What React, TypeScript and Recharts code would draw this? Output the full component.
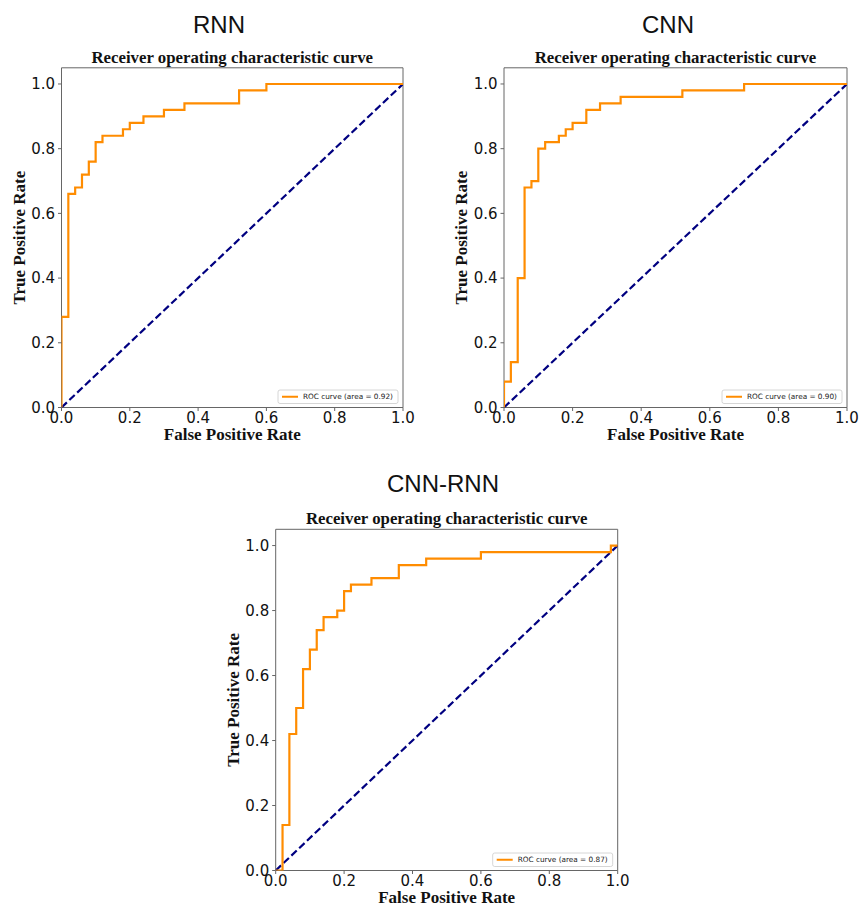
import React from "react";
import { LineChart, Line, XAxis, YAxis, ReferenceArea } from "recharts";

const TICKS = [0, 0.2, 0.4, 0.6, 0.8, 1.0];
const DIAG = [
  { fpr: 0, tpr: 0 },
  { fpr: 1, tpr: 1 },
];

const RNN_FPR = [0, 0, 0.02, 0.02, 0.04, 0.04, 0.06, 0.06, 0.08, 0.08, 0.1, 0.1, 0.12, 0.12, 0.18, 0.18, 0.2, 0.2, 0.24, 0.24, 0.3, 0.3, 0.36, 0.36, 0.52, 0.52, 0.6, 0.6, 1.0];
const RNN_TPR = [0, 0.28, 0.28, 0.66, 0.66, 0.68, 0.68, 0.72, 0.72, 0.76, 0.76, 0.82, 0.82, 0.84, 0.84, 0.86, 0.86, 0.88, 0.88, 0.9, 0.9, 0.92, 0.92, 0.94, 0.94, 0.98, 0.98, 1.0, 1.0];

const CNN_FPR = [0, 0, 0.02, 0.02, 0.04, 0.04, 0.06, 0.06, 0.08, 0.08, 0.1, 0.1, 0.12, 0.12, 0.16, 0.16, 0.18, 0.18, 0.2, 0.2, 0.24, 0.24, 0.28, 0.28, 0.34, 0.34, 0.52, 0.52, 0.7, 0.7, 1.0];
const CNN_TPR = [0, 0.08, 0.08, 0.14, 0.14, 0.4, 0.4, 0.68, 0.68, 0.7, 0.7, 0.8, 0.8, 0.82, 0.82, 0.84, 0.84, 0.86, 0.86, 0.88, 0.88, 0.92, 0.92, 0.94, 0.94, 0.96, 0.96, 0.98, 0.98, 1.0, 1.0];

const CR_FPR = [0, 0.02, 0.02, 0.04, 0.04, 0.06, 0.06, 0.08, 0.08, 0.1, 0.1, 0.12, 0.12, 0.14, 0.14, 0.18, 0.18, 0.2, 0.2, 0.22, 0.22, 0.28, 0.28, 0.36, 0.36, 0.44, 0.44, 0.6, 0.6, 0.98, 0.98, 1.0];
const CR_TPR = [0, 0, 0.14, 0.14, 0.42, 0.42, 0.5, 0.5, 0.62, 0.62, 0.68, 0.68, 0.74, 0.74, 0.78, 0.78, 0.8, 0.8, 0.86, 0.86, 0.88, 0.88, 0.9, 0.9, 0.94, 0.94, 0.96, 0.96, 0.98, 0.98, 1.0, 1.0];

const MODEL_NAMES = ["RNN", "CNN", "CNN-RNN"];
const AREAS = ["0.92", "0.90", "0.87"];
const SUBTITLE = "Receiver operating characteristic curve";
const X_LABEL = "False Positive Rate";
const Y_LABEL = "True Positive Rate";

const zip = (f: number[], t: number[]) => f.map((x, i) => ({ fpr: x, tpr: t[i] }));

const ORANGE = "#ff8c00";
const NAVY = "#000080";
const SPINE = "#666";
const TICK_FONT = { fontFamily: "DejaVu Sans", fontSize: 15, fill: "#111" };

type PanelProps = {
  left: number;
  top: number;
  width: number;
  height: number;
  margin: { top: number; right: number; bottom: number; left: number };
  data: { fpr: number; tpr: number }[];
};

function Panel({ left, top, width, height, margin, data }: PanelProps) {
  return (
    <div style={{ position: "absolute", left, top, width, height }}>
      <LineChart width={width} height={height} margin={margin}>
        <XAxis
          type="number"
          dataKey="fpr"
          domain={[0, 1]}
          ticks={TICKS}
          tickFormatter={(v: number) => v.toFixed(1)}
          height={30}
          axisLine={false}
          tickLine={{ stroke: SPINE }}
          tickSize={3.5}
          tickMargin={1}
          tick={TICK_FONT}
          allowDataOverflow
          interval={0}
        />
        <YAxis
          type="number"
          dataKey="tpr"
          domain={[0, 1.05]}
          ticks={TICKS}
          tickFormatter={(v: number) => v.toFixed(1)}
          width={40}
          axisLine={false}
          tickLine={{ stroke: SPINE }}
          tickSize={3.5}
          tickMargin={3}
          tick={TICK_FONT}
          allowDataOverflow
          interval={0}
        />
        <ReferenceArea x1={0} x2={1} y1={0} y2={1.05} fill="none" stroke={SPINE} strokeWidth={1} ifOverflow="visible" />
        <Line
          data={DIAG}
          dataKey="tpr"
          type="linear"
          stroke={NAVY}
          strokeWidth={2.2}
          strokeDasharray="7.4 3.4"
          dot={false}
          isAnimationActive={false}
        />
        <Line
          data={data}
          dataKey="tpr"
          type="linear"
          stroke={ORANGE}
          strokeWidth={2.2}
          dot={false}
          isAnimationActive={false}
        />
      </LineChart>
    </div>
  );
}

function LegendBox({ right, bottom, area }: { right: number; bottom: number; area: string }) {
  const w = 120;
  const h = 13.5;
  const x = right - w;
  const y = bottom - h;
  const cy = y + h / 2;
  return (
    <g>
      <rect x={x} y={y} width={w} height={h} rx={2} fill="#fff" stroke="#ccc" strokeWidth={0.8} />
      <line x1={x + 4} x2={x + 20} y1={cy} y2={cy} stroke={ORANGE} strokeWidth={2} />
      <text x={x + 25} y={cy + 2.6} fontFamily="DejaVu Sans" fontSize={7.3} fill="#222">
        {`ROC curve (area = ${area})`}
      </text>
    </g>
  );
}

type Geo = { pl: number; pr: number; pt: number; pb: number; titleX: number; titleY: number };

const GEOS: Geo[] = [
  { pl: 61.5, pr: 403, pt: 67.8, pb: 407.5, titleX: 219, titleY: 33.3 },
  { pl: 504, pr: 847, pt: 67.8, pb: 407.5, titleX: 668, titleY: 33.3 },
  { pl: 275.7, pr: 617.7, pt: 529.3, pb: 870.5, titleX: 443, titleY: 492 },
];

export default function App() {
  return (
    <div style={{ position: "absolute", left: 0, top: 0, width: 859, height: 908, background: "#fff" }}>
      <Panel
        left={0}
        top={0}
        width={430}
        height={450}
        margin={{ top: 67.8, right: 27, bottom: 12.5, left: 21.5 }}
        data={zip(RNN_FPR, RNN_TPR)}
      />
      <Panel
        left={430}
        top={0}
        width={429}
        height={450}
        margin={{ top: 67.8, right: 12, bottom: 12.5, left: 34 }}
        data={zip(CNN_FPR, CNN_TPR)}
      />
      <Panel
        left={215}
        top={460}
        width={430}
        height={448}
        margin={{ top: 69.3, right: 27.3, bottom: 7.5, left: 20.7 }}
        data={zip(CR_FPR, CR_TPR)}
      />
      <svg
        width={859}
        height={908}
        style={{ position: "absolute", left: 0, top: 0, pointerEvents: "none" }}
      >
        {GEOS.map((g, i) => {
          const cx = (g.pl + g.pr) / 2;
          const cy = (g.pt + g.pb) / 2;
          const yl = g.pl - 36.5;
          return (
            <g key={i}>
              <text x={g.titleX} y={g.titleY} textAnchor="middle" fontFamily="Liberation Sans" fontSize={24} fill="#111">
                {MODEL_NAMES[i]}
              </text>
              <text x={cx} y={g.pt - 5} textAnchor="middle" fontFamily="Liberation Serif" fontWeight="bold" fontSize={16.8} fill="#111">
                {SUBTITLE}
              </text>
              <text x={cx} y={g.pb + 32.8} textAnchor="middle" fontFamily="Liberation Serif" fontWeight="bold" fontSize={17} fill="#111">
                {X_LABEL}
              </text>
              <text
                x={yl}
                y={cy}
                transform={`rotate(-90 ${yl} ${cy})`}
                textAnchor="middle"
                fontFamily="Liberation Serif"
                fontWeight="bold"
                fontSize={17}
                fill="#111"
              >
                {Y_LABEL}
              </text>
              <LegendBox right={g.pr - 5} bottom={g.pb - 4} area={AREAS[i]} />
            </g>
          );
        })}
      </svg>
    </div>
  );
}
